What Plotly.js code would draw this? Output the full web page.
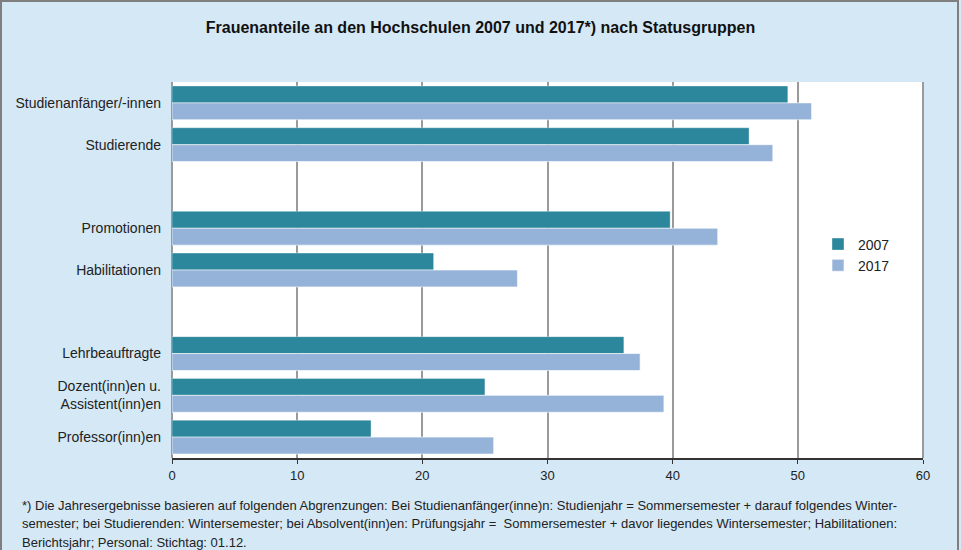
<!DOCTYPE html>
<html>
<head>
<meta charset="utf-8">
<script src="https://cdn.plot.ly/plotly-3.0.1.min.js"></script>
<style>
  html, body { margin: 0; padding: 0; background: #D4E8F6; }
  #chart { width: 961px; height: 550px; }
</style>
</head>
<body>
<div id="chart"></div>
<script>
// ---- data ----
const categories = [
  "Studienanfänger/-innen",
  "Studierende",
  " ",
  "Promotionen",
  "Habilitationen",
  "  ",
  "Lehrbeauftragte",
  "Dozent(inn)en u.<br>Assistent(inn)en",
  "Professor(inn)en"
];
const values2007 = [49.2, 46.1, null, 39.8, 20.9, null, 36.1, 25.0, 15.9];
const values2017 = [51.1, 48.0, null, 43.6, 27.6, null, 37.4, 39.3, 25.7];
const seriesNames = ["2007", "2017"];
const xTicks = [0, 10, 20, 30, 40, 50, 60];
const titleText = "Frauenanteile an den Hochschulen 2007 und 2017*) nach Statusgruppen";
const footnoteLines = [
  "*) Die Jahresergebnisse basieren auf folgenden Abgrenzungen: Bei Studienanfänger(inne)n: Studienjahr = Sommersemester + darauf folgendes Winter-",
  "semester; bei Studierenden: Wintersemester; bei Absolvent(inn)en: Prüfungsjahr =  Sommersemester + davor liegendes Wintersemester; Habilitationen:",
  "Berichtsjahr; Personal: Stichtag: 01.12."
];

// ---- layout helpers (pixel -> paper) ----
const W = 961, H = 550;
const mL = 172, mR = 38, mT = 82, mB = 92;
const pw = W - mL - mR, ph = H - mT - mB;
const px = x => (x - mL) / pw;
const py = y => (H - mB - y) / ph;

const font = "Liberation Sans, Arial, sans-serif";

const traces = [
  {
    type: "bar", orientation: "h", name: seriesNames[0],
    y: categories, x: values2007,
    marker: { color: "#2C879D", line: { color: "rgba(255,255,255,0.35)", width: 1 } },
    legendgroup: "a", hoverinfo: "x+name"
  },
  {
    type: "bar", orientation: "h", name: seriesNames[1],
    y: categories, x: values2017,
    marker: { color: "#95B3D8", line: { color: "rgba(255,255,255,0.6)", width: 1 } },
    legendgroup: "b", hoverinfo: "x+name"
  }
];

const layout = {
  width: W, height: H,
  margin: { l: mL, r: mR, t: mT, b: mB, pad: 0 },
  paper_bgcolor: "#D4E8F6",
  plot_bgcolor: "#FFFFFF",
  font: { family: font, size: 14, color: "#222222" },
  barmode: "group",
  bargap: 0.19,
  bargroupgap: 0,
  title: {
    text: "<b>" + titleText + "</b>",
    font: { family: font, size: 16, color: "#111111" },
    x: 0.5, xanchor: "center",
    yref: "container", y: 1 - 27 / H, yanchor: "middle"
  },
  xaxis: {
    range: [0, 60],
    tickvals: xTicks,
    ticktext: xTicks.map(String),
    showgrid: true, gridcolor: "#9A9A9A", gridwidth: 2,
    zeroline: true, zerolinecolor: "#9A9A9A", zerolinewidth: 2,
    showline: true, linecolor: "#333333", linewidth: 2,
    mirror: false,
    ticks: "outside", ticklen: 4, tickcolor: "#333333", tickwidth: 1,
    tickfont: { family: font, size: 13, color: "#222222" },
    fixedrange: true
  },
  yaxis: {
    type: "category",
    categoryorder: "array", categoryarray: categories,
    autorange: "reversed",
    showgrid: false, zeroline: false,
    showline: false,
    ticks: "", ticklabelstandoff: 10,
    tickfont: { family: font, size: 14, color: "#222222" },
    fixedrange: true
  },
  legend: {
    x: px(818), xanchor: "left",
    y: py(255), yanchor: "middle",
    bgcolor: "rgba(0,0,0,0)",
    font: { family: font, size: 14, color: "#222222" },
    traceorder: "normal",
    tracegroupgap: 10,
    itemclick: false, itemdoubleclick: false
  },
  shapes: [
    // outer frame
    { type: "rect", xref: "paper", yref: "paper",
      x0: px(1), x1: px(958), y0: py(600), y1: py(1),
      line: { color: "#7F7F7F", width: 2 }, fillcolor: "rgba(0,0,0,0)", layer: "above" },
    // right plot edge
    { type: "line", xref: "paper", yref: "paper",
      x0: 1, x1: 1, y0: 0, y1: 1,
      line: { color: "#9A9A9A", width: 2 }, layer: "above" }
  ],
  annotations: footnoteLines.map((t, i) => ({
    text: t, showarrow: false,
    xref: "paper", yref: "paper",
    x: px(20), xanchor: "left",
    y: py(505 + i * 18.5), yanchor: "middle",
    align: "left",
    font: { family: font, size: 13, color: "#222222" }
  }))
};

Plotly.newPlot("chart", traces, layout, { displayModeBar: false, staticPlot: true });
</script>
</body>
</html>
